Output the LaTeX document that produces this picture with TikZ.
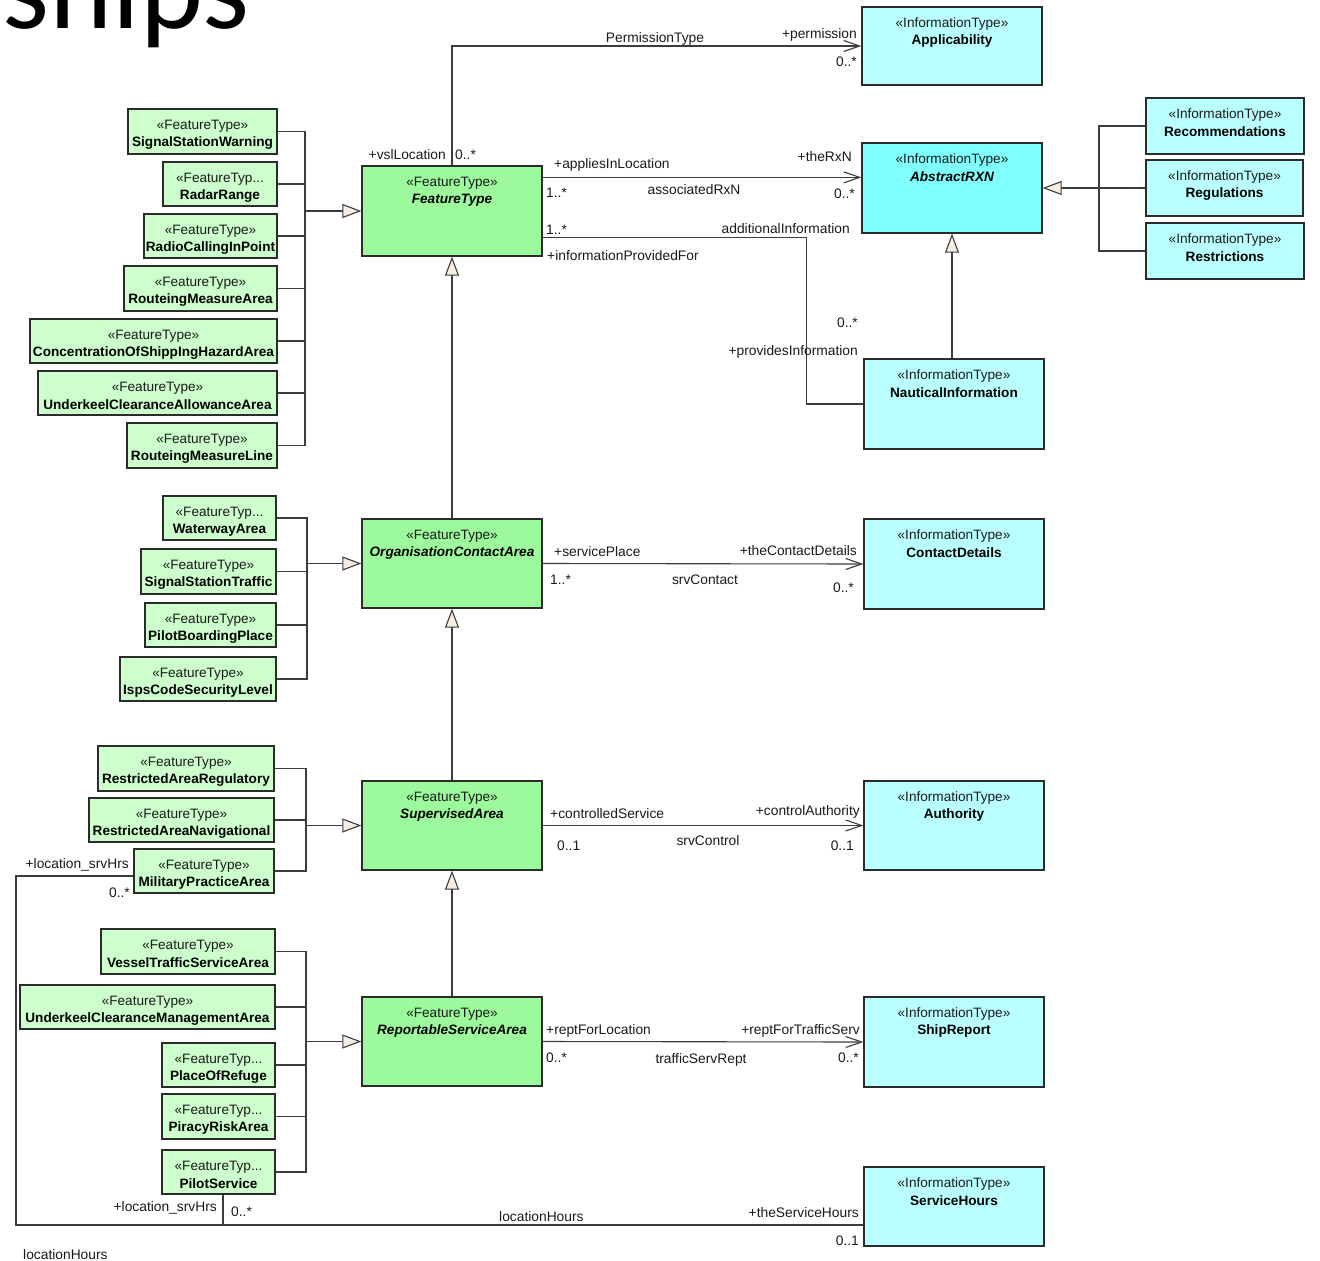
\documentclass[tikz,border=0pt]{standalone}
\usepackage{fontspec}
\setmainfont{Liberation Sans}
\newfontfamily\titlefont{Carlito}
\usetikzlibrary{arrows.meta,calc,fit}
\definecolor{leafgreen}{HTML}{CCFFCC}
\definecolor{maingreen}{HTML}{9CFA9C}
\definecolor{infocyan}{HTML}{B9FFFF}
\definecolor{abscyan}{HTML}{80FFFF}
\definecolor{boxborder}{HTML}{2B2B2B}
\definecolor{linecol}{HTML}{3C3C3C}
\definecolor{trifill}{HTML}{F4EEE2}
\definecolor{txtcol}{HTML}{1A1A1A}
\newcommand{\bxfont}{\fontsize{13.6}{16}\selectfont}
\newcommand{\lbfont}{\fontsize{13.8}{16}\selectfont}
\tikzset{
  ubox/.style={draw=boxborder, line width=1.3pt, inner sep=0pt},
  sttext/.style={font=\bxfont, inner sep=0pt, text=txtcol},
  nmtext/.style={font=\bxfont\bfseries, inner sep=0pt, text=black},
  lbl/.style={font=\lbfont, inner sep=0pt, text height=10pt, text depth=3pt, text=txtcol, yshift=-1.5pt},
  conn/.style={draw=linecol, line width=1.1pt},
  gen/.style={conn, -{Triangle[length=19pt,width=14pt,fill=trifill]}},
  assoc/.style={conn, -{Straight Barb[length=16pt,width=11pt]}},
}
% #1 name, #2 x1, #3 y1, #4 x2, #5 y2, #6 fill, #7 stereotype, #8 name
\newcommand{\umlbox}[8]{%
  \node[ubox, fill=#6, fit={(#2,#3) (#4,#5)}] (#1) {};
  \node[sttext] (#1-s) at ($(#1.north)+(0,17.5)$) {#7};
  \node[nmtext] (#1-n) at ($(#1.north)+(0,34.5)$) {#8};
}
\begin{document}
\begin{tikzpicture}[x=1pt,y=-1pt]
\useasboundingbox[fill=white] (0,0) rectangle (1320,1261);

% title fragment
\node[font=\titlefont\fontsize{120}{122}\selectfont, anchor=base east, inner sep=0pt] (title) at (250,28) {Relationships};

% ---- FeatureType children
\umlbox{ssw}{128}{109}{277}{154}{leafgreen}{«FeatureType»}{SignalStationWarning}
\umlbox{rr}{163}{162}{277}{206}{leafgreen}{«FeatureTyp...}{RadarRange}
\umlbox{rcp}{144}{214}{277}{258}{leafgreen}{«FeatureType»}{RadioCallingInPoint}
\umlbox{rma}{124}{266}{277}{311}{leafgreen}{«FeatureType»}{RouteingMeasureArea}
\umlbox{cosha}{30}{319}{277}{363}{leafgreen}{«FeatureType»}{ConcentrationOfShippIngHazardArea}
\umlbox{ucaa}{38}{371}{277}{415}{leafgreen}{«FeatureType»}{UnderkeelClearanceAllowanceArea}
\umlbox{rml}{127}{423}{277}{468}{leafgreen}{«FeatureType»}{RouteingMeasureLine}

% ---- OCA children
\umlbox{wa}{163}{496}{276}{540}{leafgreen}{«FeatureTyp...}{WaterwayArea}
\umlbox{sst}{141}{549}{276}{594}{leafgreen}{«FeatureType»}{SignalStationTraffic}
\umlbox{pbp}{145}{603}{276}{647}{leafgreen}{«FeatureType»}{PilotBoardingPlace}
\umlbox{iscl}{120}{657}{276}{701}{leafgreen}{«FeatureType»}{IspsCodeSecurityLevel}

% ---- SA children
\umlbox{rar}{98}{746}{274}{791}{leafgreen}{«FeatureType»}{RestrictedAreaRegulatory}
\umlbox{ran}{89}{798}{274}{842}{leafgreen}{«FeatureType»}{RestrictedAreaNavigational}
\umlbox{mpa}{134}{849}{274}{893}{leafgreen}{«FeatureType»}{MilitaryPracticeArea}

% ---- RSA children
\umlbox{vtsa}{101}{929}{275}{974}{leafgreen}{«FeatureType»}{VesselTrafficServiceArea}
\umlbox{ucma}{20}{985}{275}{1029}{leafgreen}{«FeatureType»}{UnderkeelClearanceManagementArea}
\umlbox{por}{162}{1043}{275}{1087}{leafgreen}{«FeatureTyp...}{PlaceOfRefuge}
\umlbox{pra}{162}{1094}{275}{1139}{leafgreen}{«FeatureTyp...}{PiracyRiskArea}
\umlbox{ps}{162}{1150}{275}{1194}{leafgreen}{«FeatureTyp...}{PilotService}

% ---- main feature types
\umlbox{ft}{362}{166}{542}{256}{maingreen}{«FeatureType»}{\itshape FeatureType}
\umlbox{oca}{362}{519}{542}{608}{maingreen}{«FeatureType»}{\itshape OrganisationContactArea}
\umlbox{sa}{362}{781}{542}{870}{maingreen}{«FeatureType»}{\itshape SupervisedArea}
\umlbox{rsa}{362}{997}{542}{1086}{maingreen}{«FeatureType»}{\itshape ReportableServiceArea}

% ---- information types
\umlbox{app}{862}{7}{1042}{85}{infocyan}{«InformationType»}{Applicability}
\umlbox{arxn}{862}{143}{1042}{233}{abscyan}{«InformationType»}{\itshape AbstractRXN}
\umlbox{rec}{1146}{98}{1304}{154}{infocyan}{«InformationType»}{Recommendations}
\umlbox{reg}{1146}{160}{1303}{216}{infocyan}{«InformationType»}{Regulations}
\umlbox{res}{1146}{223}{1304}{279}{infocyan}{«InformationType»}{Restrictions}
\umlbox{naut}{864}{359}{1044}{449}{infocyan}{«InformationType»}{NauticalInformation}
\umlbox{cd}{864}{519}{1044}{609}{infocyan}{«InformationType»}{ContactDetails}
\umlbox{auth}{864}{781}{1044}{870}{infocyan}{«InformationType»}{Authority}
\umlbox{srp}{864}{997}{1044}{1087}{infocyan}{«InformationType»}{ShipReport}
\umlbox{sh}{864}{1167}{1044}{1246}{infocyan}{«InformationType»}{ServiceHours}

% ---- generalization buses
\coordinate (b1) at (305,211);
\foreach \c in {ssw,rr,rcp,rma,cosha,ucaa,rml} {\draw[conn] (\c.east) -| (b1);}
\draw[gen] (b1) -- (ft.west);

\coordinate (b2) at (307,563.5);
\foreach \c in {wa,sst,pbp,iscl} {\draw[conn] (\c.east) -| (b2);}
\draw[gen] (b2) -- (oca.west);

\coordinate (b3) at (306,825.5);
\foreach \c in {rar,ran,mpa} {\draw[conn] (\c.east) -| (b3);}
\draw[gen] (b3) -- (sa.west);

\coordinate (b4) at (306,1041.5);
\foreach \c in {vtsa,ucma,por,pra,ps} {\draw[conn] (\c.east) -| (b4);}
\draw[gen] (b4) -- (rsa.west);

\coordinate (b5) at (1099,188);
\foreach \c in {rec,reg,res} {\draw[conn] (\c.west) -| (b5);}
\draw[gen] (b5) -- (arxn.east);

% chain of generalizations
\draw[gen] (oca.north) -- (ft.south);
\draw[gen] (sa.north) -- (oca.south);
\draw[gen] (rsa.north) -- (sa.south);
\draw[gen] (naut.north -| arxn.south) -- (arxn.south);

% ---- associations
\draw[assoc] (ft.north) |- (app.west);
\draw[assoc] ($(ft.north east)+(0,12)$) -- ($(arxn.north west)+(0,35)$);
\draw[conn] ($(ft.north east)+(0,72)$) -| ($(naut.west)+(-57,0)$) -- (naut.west);
\draw[assoc] (oca.east) -- (cd.west);
\draw[assoc] (sa.east) -- (auth.west);
\draw[assoc] (rsa.east) -- (srp.west);

\coordinate (cl) at (16,876);
\coordinate (cb) at (16,1225);
\draw[conn] ($(mpa.west)+(0,5)$) -- (cl) -- (cb) -- (cb -| sh.west);
\coordinate (psx) at ($(ps.south)+(4.5,0)$);
\draw[conn] (psx) -- (psx |- cb);

% ---- labels
\node[lbl] (l1) at (655,37) {PermissionType};
\node[lbl, anchor=east] (l2) at (857,33) {+permission};
\node[lbl, anchor=east] (l3) at (857,61) {0..*};
\node[lbl, anchor=east] (l4) at (446,154) {+vslLocation};
\node[lbl, anchor=west] (l5) at (455,154) {0..*};
\node[lbl, anchor=west] (l6) at (554,163) {+appliesInLocation};
\node[lbl, anchor=east] (l7) at (852,156) {+theRxN};
\node[lbl, anchor=west] (l8) at (546,192) {1..*};
\node[lbl] (l9) at (694,189) {associatedRxN};
\node[lbl, anchor=east] (l10) at (855,193) {0..*};
\node[lbl, anchor=west] (l11) at (546,229) {1..*};
\node[lbl, anchor=east] (l12) at (850,228) {additionalInformation};
\node[lbl, anchor=west] (l13) at (547,255) {+informationProvidedFor};
\node[lbl, anchor=east] (l14) at (858,322) {0..*};
\node[lbl, anchor=east] (l15) at (858,350) {+providesInformation};
\node[lbl, anchor=west] (l16) at (554,551) {+servicePlace};
\node[lbl, anchor=east] (l17) at (857,550) {+theContactDetails};
\node[lbl, anchor=west] (l18) at (550,579) {1..*};
\node[lbl] (l19) at (705,579) {srvContact};
\node[lbl, anchor=east] (l20) at (854,587) {0..*};
\node[lbl, anchor=west] (l21) at (550,813) {+controlledService};
\node[lbl, anchor=east] (l22) at (860,810) {+controlAuthority};
\node[lbl, anchor=west] (l23) at (557,845) {0..1};
\node[lbl] (l24) at (708,840) {srvControl};
\node[lbl, anchor=east] (l25) at (854,845) {0..1};
\node[lbl, anchor=west] (l26) at (546,1029) {+reptForLocation};
\node[lbl, anchor=east] (l27) at (860,1029) {+reptForTrafficServ};
\node[lbl, anchor=west] (l28) at (546,1057) {0..*};
\node[lbl] (l29) at (701,1058) {trafficServRept};
\node[lbl, anchor=east] (l30) at (859,1057) {0..*};
\node[lbl, anchor=east] (l31) at (129,863) {+location\_srvHrs};
\node[lbl, anchor=east] (l32) at (130,892) {0..*};
\node[lbl, anchor=east] (l33) at (217,1206) {+location\_srvHrs};
\node[lbl, anchor=west] (l34) at (231,1211) {0..*};
\node[lbl, anchor=west] (l35) at (499,1216) {locationHours};
\node[lbl, anchor=east] (l36) at (859,1212) {+theServiceHours};
\node[lbl, anchor=east] (l37) at (859,1240) {0..1};
\node[lbl, anchor=west] (l38) at (23,1254) {locationHours};
\end{tikzpicture}
\end{document}
